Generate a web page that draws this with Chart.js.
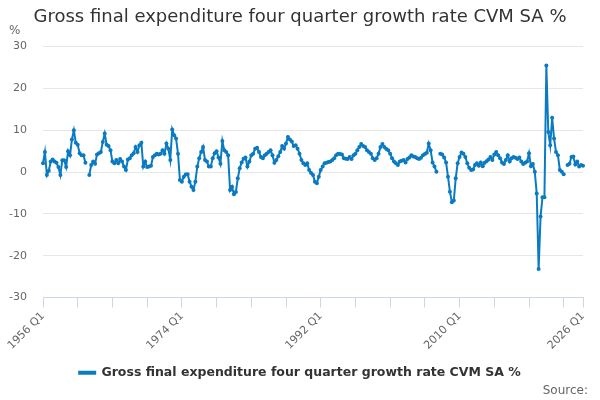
<!DOCTYPE html>
<html>
<head>
<meta charset="utf-8">
<style>
  html, body { margin: 0; padding: 0; background: #fff; }
  #wrap { width: 600px; height: 400px; }
</style>
</head>
<body>
<div id="wrap"><canvas id="growth_chart" width="600" height="400"></canvas></div>
<script src="https://cdn.jsdelivr.net/npm/chart.js@4.4.1/dist/chart.umd.min.js"></script>
<script>
// CHART TEXT
const chart_title = "Gross final expenditure four quarter growth rate CVM SA %";
const series_name = "Gross final expenditure four quarter growth rate CVM SA %";
const unit_label = "%";
const source_label = "Source:";

// CATEGORIES: quarters from 1956 Q1 to 2026 Q1
const first_year = 1956;
const quarter_count = 281;
const tick_labels = ["1956 Q1", "1974 Q1", "1992 Q1", "2010 Q1", "2026 Q1"];
const tick_mark_step = 18; // a small tick every 18 quarters

// SERIES VALUES (%), null = no value
const growth_1950s = [2.1, 4.8, -0.7, 0.3, 2.5, 3.0, 2.5, 2.2, 1.2, -0.7, 2.8, 2.8, 1.2, 5.0, 4.0, 7.8];
const growth_1960s = [10.0, 7.0, 6.5, 4.5, 4.0, 4.0, 2.2, null, -0.7, 1.7, 2.5, 2.0, 4.2, 4.5, 4.8, 7.2,
  9.2, 6.5, 6.2, 5.2, 2.5, 2.1, 2.9, 2.1, 3.1, 2.5, 1.3, 0.5, 3.0, 3.3, 4.0, 4.5,
  6.0, 4.8, 6.4, 7.0, 1.3, 2.5, 1.2, 1.3];
const growth_1970s = [1.5, 3.6, 4.0, 4.4, 4.2, 4.4, 5.2, 4.4, 6.8, 5.6, 2.9, 10.2, 8.8, 8.0, 4.4, -1.9,
  -2.3, -1.1, -0.6, -0.5, -2.3, -3.5, -4.3, -2.3, 1.3, 3.3, 4.8, 6.0, 2.9, 2.5, 1.3, 1.3,
  3.3, 4.5, 5.0, 3.5, 2.0, 7.4, 5.2, 4.8];
const growth_1980s = [4.0, -4.3, -3.5, -5.3, -4.8, -1.5, 0.9, 2.3, 3.2, 3.5, 1.3, 2.5, 4.0, 4.4, 5.6, 5.8,
  4.8, 3.6, 3.3, 4.0, 4.4, 4.8, 5.2, 4.0, 2.2, 2.9, 3.8, 4.8, 6.2, 5.6, 6.8, 8.4,
  7.8, 7.3, 6.2, 6.4, 5.6, 4.4, 2.9, 2.1];
const growth_1990s = [1.7, 2.1, 0.5, -0.2, -0.7, -2.3, -2.7, -1.1, 0.5, 1.3, 2.1, 2.2, 2.4, 2.5, 2.9, 3.3,
  4.0, 4.4, 4.3, 4.2, 3.3, 3.2, 3.1, 3.6, 3.1, 4.0, 4.4, 5.2, 6.0, 6.7, 6.2, 6.0,
  5.2, 4.8, 4.4, 3.3, 2.9, 3.3, 4.4, 6.0];
const growth_2000s = [6.7, 6.0, 5.5, 5.2, 4.4, 3.3, 2.5, 2.1, 1.7, 2.5, 2.7, 2.9, 2.3, 3.1, 3.5, 4.0,
  3.7, 3.6, 3.3, 3.1, 3.4, 4.0, 4.3, 4.6, 6.8, 5.2, 2.3, 1.3, 0.1, null, 4.4, 4.2,
  3.5, 2.3, -1.1, -4.7, -7.2, -6.8, -1.5, 2.1];
const growth_2010s = [3.6, 4.7, 4.4, 3.6, 2.1, 1.0, 0.5, 0.6, 1.7, 2.1, 1.5, 2.3, 1.4, 2.2, 2.6, 3.0,
  3.6, 2.9, 4.2, 4.8, 4.0, 3.3, 2.3, 1.9, 2.9, 4.0, 2.5, 3.3, 3.6, 3.4, 3.1, 3.5,
  2.5, 1.9, 2.2, 2.5, 4.5, 1.4, 1.9, 0.1];
const growth_2020s = [-5.1, -23.2, -10.6, -6.0, -6.0, 25.5, 9.6, 6.4, 13.0, 8.0, 4.8, 4.0, 0.5, 0.1, -0.5, null,
  1.7, 2.0, 3.6, 3.7, 1.8, 2.5, 1.3, 1.7, 1.5];

// Y AXIS
const y_min = -30, y_max = 30, y_step = 10;

// BUILD LABELS AND SERIES
let quarter_labels = [];
for (let i = 0; i < quarter_count; i++) {
  quarter_labels.push((first_year + Math.floor(i / 4)) + " Q" + (i % 4 + 1));
}
const growth_values = [].concat(growth_1950s, growth_1960s, growth_1970s,
  growth_1980s, growth_1990s, growth_2000s, growth_2010s, growth_2020s);

const line_color = "#0a7bc1";
const axis_color = "#ccd6eb";
const last_index = quarter_count - 1;

function isTickMark(index) {
  return index % tick_mark_step === 0 || index === last_index;
}

// "%" over the y axis and "Source:" at the bottom
const extraText = {
  id: "extraText",
  afterDraw(chart) {
    const c = chart.ctx;
    c.save();
    c.fillStyle = "#666666";
    c.textBaseline = "middle";
    c.font = '12px "DejaVu Sans"';
    c.textAlign = "left";
    c.fillText(unit_label, 9, 31);
    c.textAlign = "right";
    c.fillText(source_label, 588, 391);
    c.restore();
  },
};

Chart.defaults.font.family = '"DejaVu Sans", Verdana, sans-serif';

const ctx = document.getElementById("growth_chart").getContext("2d");
const my_chart = new Chart(ctx, {
  type: "line",
  data: {
    labels: quarter_labels,
    datasets: [
      {
        label: series_name,
        data: growth_values,
        borderColor: line_color,
        backgroundColor: line_color,
        borderWidth: 2,
        pointRadius: 2,
        pointBorderWidth: 0,
        pointBackgroundColor: line_color,
        fill: false,
        tension: 0,
        spanGaps: false,
      },
    ],
  },
  options: {
    responsive: false,
    animation: false,
    layout: { padding: { left: 0, right: 0, top: 0, bottom: 11 } },
    scales: {
      x: {
        offset: false,
        border: { color: axis_color, width: 1 },
        grid: {
          drawOnChartArea: false,
          drawTicks: true,
          tickLength: 10,
          color: (c) => (isTickMark(c.index) ? axis_color : "rgba(0,0,0,0)"),
        },
        ticks: {
          autoSkip: false,
          maxRotation: 45,
          minRotation: 45,
          color: "#666666",
          font: { size: 11 },
          padding: 2,
          callback: function (value, index) {
            const lab = this.getLabelForValue(value);
            return tick_labels.includes(lab) ? lab : "";
          },
        },
        afterFit: (s) => { s.height = 59; },
      },
      y: {
        min: y_min,
        max: y_max,
        border: { display: false },
        grid: { color: "#e6e6e6", drawTicks: false },
        ticks: {
          stepSize: y_step,
          color: "#666666",
          font: { size: 11 },
          padding: 16,
        },
        afterFit: (s) => { s.width = 43; },
      },
      // empty right-hand space, so title and legend stay centred on the page
      spacer: {
        type: "linear",
        position: "right",
        border: { display: false },
        grid: { display: false },
        ticks: { display: false },
        afterFit: (s) => { s.width = 17; },
      },
    },
    plugins: {
      title: {
        display: true,
        text: chart_title,
        color: "#333333",
        font: { size: 18, weight: "normal" },
        padding: { top: 7, bottom: 18 },
      },
      legend: {
        position: "bottom",
        labels: {
          color: "#333333",
          font: { size: 12.5, weight: "bold" },
          boxWidth: 16,
          boxHeight: 2,
          padding: 10,
        },
      },
      tooltip: { enabled: false },
    },
  },
  plugins: [extraText],
});
</script>
</body>
</html>
